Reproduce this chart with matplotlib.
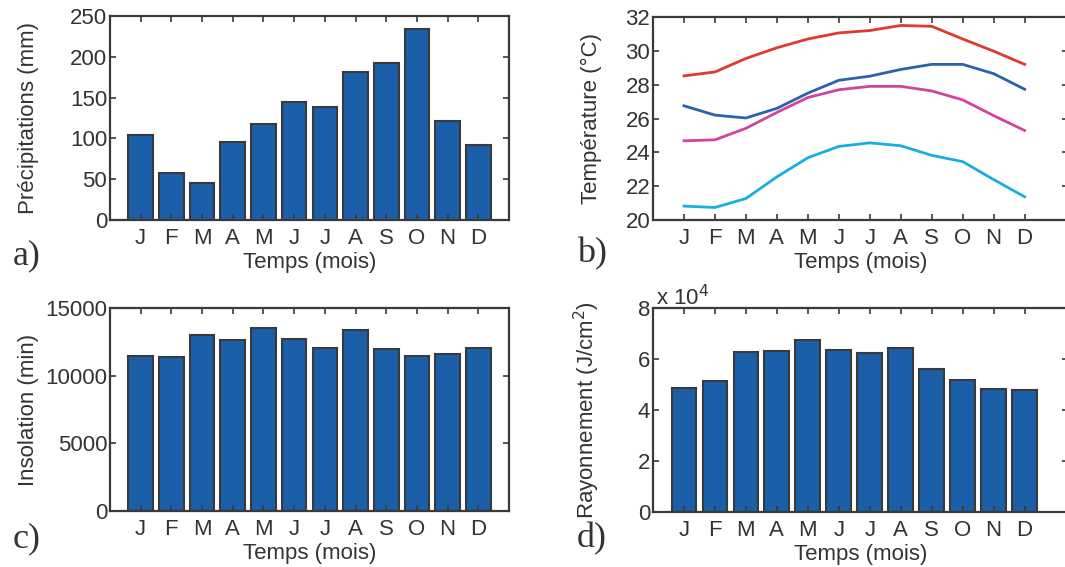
import matplotlib
matplotlib.use("Agg")
import matplotlib.pyplot as plt
import numpy as np

months = ["J", "F", "M", "A", "M", "J", "J", "A", "S", "O", "N", "D"]
precip = [104, 58, 45, 95, 118, 144, 138, 181, 192, 234, 121, 92]
temp_max = [28.52, 28.75, 29.55, 30.18, 30.70, 31.06, 31.20, 31.50, 31.45, 30.70, 29.98, 29.20]
temp_mean = [26.75, 26.20, 26.03, 26.60, 27.50, 28.26, 28.50, 28.90, 29.20, 29.20, 28.65, 27.73]
temp_mid = [24.68, 24.74, 25.42, 26.36, 27.24, 27.70, 27.90, 27.90, 27.63, 27.10, 26.17, 25.29]
temp_min = [20.82, 20.74, 21.27, 22.55, 23.68, 24.35, 24.56, 24.39, 23.82, 23.45, 22.39, 21.37]
insolation = [11470, 11350, 13020, 12610, 13490, 12700, 12040, 13390, 11960, 11420, 11590, 12040]
rayonnement = [4.85, 5.13, 6.27, 6.32, 6.74, 6.35, 6.22, 6.44, 5.60, 5.19, 4.81, 4.77]  # x 10^4

TXT = "#333333"
EDGE = "#3a3a3a"
BAR = "#1a5fa8"
plt.rcParams["font.family"] = ["Liberation Sans", "DejaVu Sans"]
plt.rcParams["font.size"] = 16
plt.rcParams["text.color"] = TXT
plt.rcParams["axes.labelcolor"] = TXT
plt.rcParams["xtick.color"] = EDGE
plt.rcParams["ytick.color"] = EDGE
plt.rcParams["xtick.labelcolor"] = TXT
plt.rcParams["ytick.labelcolor"] = TXT

W, H = 1065, 567
fig = plt.figure(figsize=(W / 100, H / 100), dpi=100)


def make_ax(l, r, t, b):
    return fig.add_axes([l / W, (H - b) / H, (r - l) / W, (b - t) / H])


x = np.arange(1, 13)


def style(ax, xmax):
    ax.set_xlim(0, xmax)
    ax.set_xticks(x)
    ax.set_xticklabels(months)
    for s in ax.spines.values():
        s.set_color(EDGE)
        s.set_linewidth(1.6)
    ax.tick_params(direction="in", length=4, width=1.2, top=True, right=True)
    ax.tick_params(axis="x", pad=6)
    ax.tick_params(axis="y", pad=2)
    ax.set_xlabel("Temps (mois)")
    ax.xaxis.set_label_coords(0.5, -0.158)


# a) precipitation
axa = make_ax(110, 509, 16, 220)
axa.bar(x, precip, width=0.8, color=BAR, edgecolor=EDGE, linewidth=1.5)
style(axa, 13)
axa.set_ylim(0, 250)
axa.set_yticks([0, 50, 100, 150, 200, 250])
axa.set_ylabel("Précipitations (mm)")
axa.yaxis.set_label_coords(-0.178, 0.5)

# b) temperature
axb = make_ax(653, 1068, 17, 220)
axb.plot(x, temp_max, color="#e03a2f", lw=2)
axb.plot(x, temp_mean, color="#2a63ad", lw=2)
axb.plot(x, temp_mid, color="#d2449a", lw=2)
axb.plot(x, temp_min, color="#1aaee0", lw=2)
style(axb, 13.4)
axb.set_ylim(20, 32)
axb.set_yticks(np.arange(20, 33, 2))
axb.set_ylabel("Température (°C)")
axb.yaxis.set_label_coords(-0.123, 0.5)

# c) insolation
axc = make_ax(110, 509, 308, 511)
axc.bar(x, insolation, width=0.8, color=BAR, edgecolor=EDGE, linewidth=1.5)
style(axc, 13)
axc.set_ylim(0, 15000)
axc.set_yticks([0, 5000, 10000, 15000])
axc.set_ylabel("Insolation (min)")
axc.yaxis.set_label_coords(-0.178, 0.5)

# d) rayonnement
axd = make_ax(653, 1068, 308, 512)
axd.bar(x, rayonnement, width=0.8, color=BAR, edgecolor=EDGE, linewidth=1.5)
style(axd, 13.4)
axd.set_ylim(0, 8)
axd.set_yticks([0, 2, 4, 6, 8])
axd.set_ylabel("Rayonnement (J/cm$^2$)")
axd.yaxis.set_label_coords(-0.123, 0.5)
axd.text(0.008, 0.99, r"x 10$^4$", transform=axd.transAxes, ha="left", va="bottom", fontsize=16)

# panel letters
for lab, (px, py) in {"a)": (13, 264), "b)": (577, 262), "c)": (13, 547), "d)": (577, 547)}.items():
    fig.text(px / W, 1 - py / H, lab, family=["Liberation Serif", "DejaVu Serif"],
             fontsize=26, color=TXT, ha="left", va="baseline")

fig.savefig("out.png", dpi=100)
